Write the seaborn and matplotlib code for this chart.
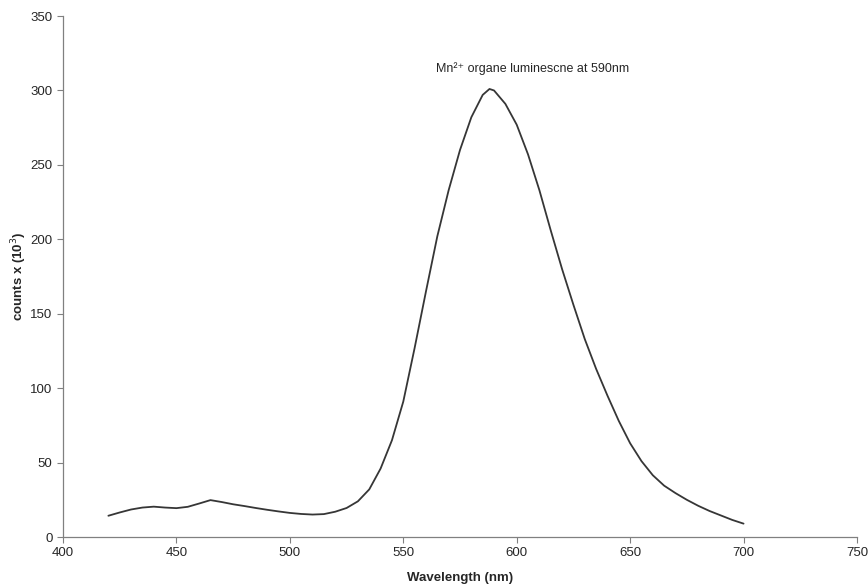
import pandas as pd
import matplotlib.pyplot as plt
import seaborn as sns

# wavelength (nm) and counts x 10^3
wavelength = [420, 425, 430, 435, 440, 445, 450, 455, 460, 465, 470, 475,
              480, 485, 490, 495, 500, 505, 510, 515, 520, 525, 530, 535,
              540, 545, 550, 555, 560, 565, 570, 575, 580, 585, 588, 590,
              595, 600, 605, 610, 615, 620, 625, 630, 635, 640, 645, 650,
              655, 660, 665, 670, 675, 680, 685, 690, 695, 700]
counts = [14.3, 16.5, 18.5, 19.8, 20.4, 19.8, 19.4, 20.3, 22.5, 24.8, 23.5, 22,
          20.8, 19.5, 18.3, 17.2, 16.2, 15.5, 15.1, 15.4, 17, 19.5, 24, 32,
          46, 65, 91, 127, 165, 202, 233, 260, 282, 297, 301, 300,
          291, 277, 257, 233, 206, 180, 156, 133, 113, 95, 78, 63,
          51, 41.5, 34.5, 29.5, 25, 21, 17.5, 14.5, 11.5, 9]

x_ticks = [400, 450, 500, 550, 600, 650, 700, 750]
y_ticks = [0, 50, 100, 150, 200, 250, 300, 350]

df = pd.DataFrame({"wavelength": wavelength, "counts": counts})

sns.set_style("ticks")
plt.rcParams["font.family"] = ["Liberation Sans", "DejaVu Sans"]

fig = plt.figure(figsize=(8.68, 5.85), dpi=100)
ax = fig.add_axes([0.0726, 0.082, 0.9147, 0.8906])

sns.lineplot(data=df, x="wavelength", y="counts", color="#363636",
             linewidth=1.3, ax=ax)

ax.set_xlim(400, 750)
ax.set_ylim(0, 350)
ax.set_xticks(x_ticks)
ax.set_yticks(y_ticks)
ax.tick_params(axis="both", labelsize=9.5, length=4, width=0.8, color="#808080")
sns.despine(ax=ax)
for side in ["left", "bottom"]:
    ax.spines[side].set_color("#808080")
    ax.spines[side].set_linewidth(0.9)

ax.set_xlabel("Wavelength (nm)", fontsize=9.5, fontweight="bold", labelpad=9)
ax.set_ylabel("counts x (10$^{3}$)", fontsize=9.5, fontweight="bold", labelpad=1)

ax.text(607, 315, "Mn²⁺ organe luminescne at 590nm", fontsize=9,
        ha="center", va="center")

fig.savefig("out.png", dpi=100)
